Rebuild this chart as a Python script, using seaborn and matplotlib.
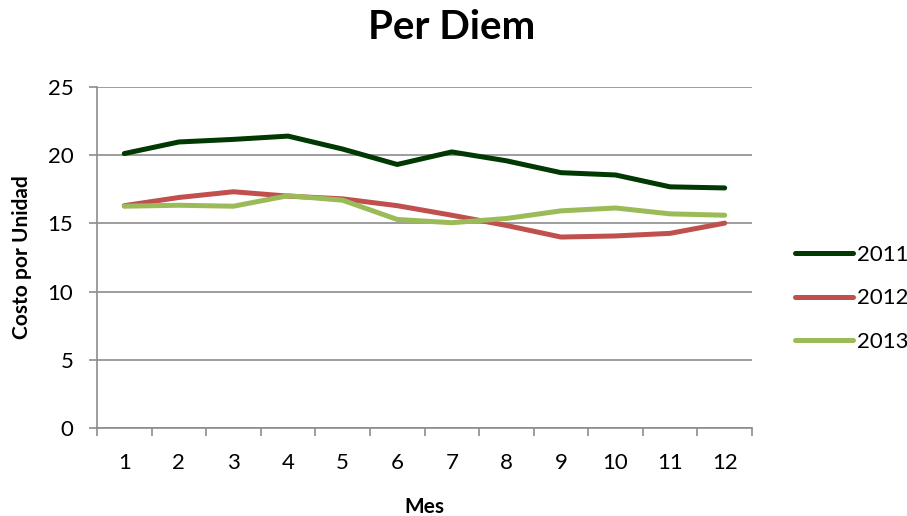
import numpy as np
import pandas as pd
import matplotlib
matplotlib.use("Agg")
import matplotlib.pyplot as plt
import seaborn as sns
from matplotlib.ticker import FixedLocator

meses = ["1", "2", "3", "4", "5", "6", "7", "8", "9", "10", "11", "12"]
y2011 = [20.12, 20.97, 21.16, 21.4, 20.45, 19.32, 20.24, 19.59, 18.72, 18.55, 17.68, 17.6]
y2012 = [16.3, 16.9, 17.32, 17.0, 16.8, 16.3, 15.6, 14.85, 14.0, 14.08, 14.27, 15.02]
y2013 = [16.26, 16.33, 16.26, 17.03, 16.7, 15.29, 15.05, 15.36, 15.92, 16.13, 15.7, 15.6]
series = ["2011", "2012", "2013"]
colors = ["#023802", "#C0504D", "#9BBB59"]

df = pd.DataFrame({
    "Mes": list(range(12)) * 3,
    "valor": y2011 + y2012 + y2013,
    "serie": [s for s in series for _ in range(12)],
})

sns.set_theme(style="white")
plt.rcParams["font.family"] = ["Lato", "DejaVu Sans"]
plt.rcParams["text.color"] = "black"
plt.rcParams["axes.labelcolor"] = "black"
plt.rcParams["xtick.color"] = "black"
plt.rcParams["ytick.color"] = "black"

fig = plt.figure(figsize=(9.07, 5.16), dpi=100)
ax = fig.add_axes([97 / 907, 1 - 428 / 516, (752 - 97) / 907, (428 - 87) / 516])

sns.lineplot(data=df, x="Mes", y="valor", hue="serie", palette=colors,
             linewidth=3.6, ax=ax, legend=True, solid_capstyle="round")

ax.set_xlim(-0.5, 11.5)
ax.set_ylim(0, 25)
ax.set_yticks([0, 5, 10, 15, 20, 25])
ax.yaxis.grid(True, color="#8C8C8C", linewidth=1.2)
ax.xaxis.grid(False)
ax.set_axisbelow(True)

ax.set_xticks(range(12))
ax.set_xticklabels(meses)
ax.xaxis.set_minor_locator(FixedLocator(np.arange(-0.5, 12, 1)))
ax.tick_params(axis="x", which="major", length=0, pad=18, labelsize=16, labelcolor="black")
ax.tick_params(axis="x", which="minor", length=6, width=1.2, color="#8C8C8C", direction="out", bottom=True)
ax.tick_params(axis="y", which="major", length=6, width=1.2, color="#8C8C8C", labelcolor="black",
               direction="out", left=True, pad=11, labelsize=16)

for side in ["top", "right"]:
    ax.spines[side].set_visible(False)
for side in ["left", "bottom"]:
    ax.spines[side].set_color("#8C8C8C")
    ax.spines[side].set_linewidth(1.2)

ax.set_xlabel("Mes", fontsize=15, fontweight="bold", labelpad=17, color="black")
ax.set_ylabel("Costo por Unidad", fontsize=15, fontweight="bold", labelpad=11, color="black")
fig.suptitle("Per Diem", fontsize=29, fontweight="bold", x=452 / 907, y=0.982, color="black")

leg = ax.legend(loc="center left", bbox_to_anchor=(1.035, 0.38), frameon=False,
                fontsize=16, handlelength=2.6, handletextpad=0.2, labelspacing=1.05)
for txt in leg.get_texts():
    txt.set_color("black")
for line in leg.get_lines():
    line.set_linewidth(3.6)
    line.set_solid_capstyle("round")

fig.savefig("out.png", dpi=100)
